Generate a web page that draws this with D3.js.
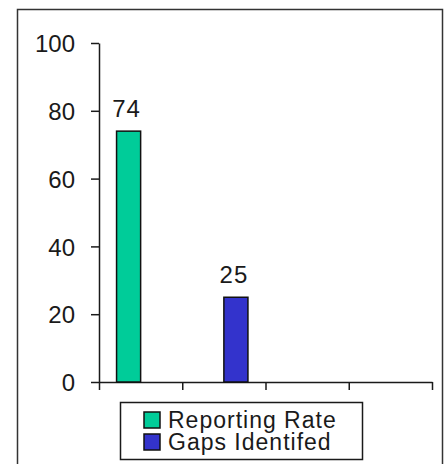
<!DOCTYPE html>
<html>
<head>
<meta charset="utf-8">
<script src="https://cdn.jsdelivr.net/npm/d3@7"></script>
<style>
  body { margin: 0; background: #fff; }
  text { font-family: "Liberation Sans", Arial, sans-serif; fill: #1a1a1a; }
</style>
</head>
<body>
<div id="chart"></div>
<script>
// data
const categories = ["c1", "c2", "c3", "c4"];
const seriesNames = ["Reporting Rate", "Gaps Identifed"];
const reportingRate = [74, null, null, null];
const gapsIdentified = [null, 25, null, null];
const yTicks = [0, 20, 40, 60, 80, 100];
const colors = ["#00CC99", "#3333CC"];

const W = 445, H = 464;
const margin = {top: 43, left: 99, right: 13, bottom: 82};
const width = W - margin.left - margin.right;
const height = H - margin.top - margin.bottom;

const svg = d3.select("#chart").append("svg")
    .attr("width", W)
    .attr("height", H);

// outer frame
svg.append("rect")
    .attr("x", 17.5).attr("y", 9.5)
    .attr("width", 425).attr("height", 470)
    .attr("fill", "none")
    .attr("stroke", "#333")
    .attr("stroke-width", 1.5);

const g = svg.append("g")
    .attr("transform", "translate(" + margin.left + "," + margin.top + ")");

// scales
const x0 = d3.scaleBand().domain(categories).range([0, width]).padding(0);
const x1 = d3.scaleBand().domain(seriesNames).range([0, x0.bandwidth()])
    .paddingInner(0).paddingOuter(0.73);
const y = d3.scaleLinear().domain([0, 100]).range([height, 0]);
const xEdges = d3.scaleLinear().domain([0, categories.length]).range([0, width]);

// axes
const yAxisG = g.append("g")
    .call(d3.axisLeft(y).tickValues(yTicks).tickSize(8).tickSizeOuter(0).tickPadding(16));
const xAxisG = g.append("g")
    .attr("transform", "translate(0," + height + ")")
    .call(d3.axisBottom(xEdges).tickValues(d3.range(categories.length + 1))
        .tickSize(8).tickSizeOuter(0).tickFormat(""));

[yAxisG, xAxisG].forEach(ax => {
    ax.selectAll("path, line").attr("stroke", "#1a1a1a").attr("stroke-width", 1.5);
});
yAxisG.selectAll("text")
    .style("font-size", "24px")
    .attr("fill", "#1a1a1a")
    .attr("dy", "0.36em");

// bars
const series = [reportingRate, gapsIdentified];
const barData = [];
categories.forEach((c, i) => {
    series.forEach((s, j) => {
        if (s[i] != null) barData.push({cat: c, name: seriesNames[j], value: s[i], color: colors[j]});
    });
});

g.selectAll(".bar")
    .data(barData)
  .enter().append("rect")
    .attr("class", "bar")
    .attr("x", d => x0(d.cat) + x1(d.name))
    .attr("y", d => y(d.value))
    .attr("width", x1.bandwidth())
    .attr("height", d => height - y(d.value))
    .attr("fill", d => d.color)
    .attr("stroke", "#111")
    .attr("stroke-width", 1.5);

g.selectAll(".label")
    .data(barData)
  .enter().append("text")
    .attr("class", "label")
    .attr("x", d => x0(d.cat) + x1(d.name) + x1.bandwidth() / 2 - 2)
    .attr("y", d => y(d.value) - 14)
    .attr("text-anchor", "middle")
    .style("font-size", "24px")
    .style("letter-spacing", "1px")
    .text(d => d.value);

// legend
const legend = svg.append("g").attr("transform", "translate(120,402)");
legend.append("rect")
    .attr("x", 0.5).attr("y", 0.5)
    .attr("width", 242).attr("height", 57)
    .attr("fill", "#fff")
    .attr("stroke", "#1a1a1a")
    .attr("stroke-width", 1.5);

const items = legend.selectAll(".item")
    .data(seriesNames)
  .enter().append("g")
    .attr("transform", (d, i) => "translate(24," + (10 + i * 22) + ")");
items.append("rect")
    .attr("width", 16).attr("height", 16)
    .attr("fill", (d, i) => colors[i])
    .attr("stroke", "#111")
    .attr("stroke-width", 1.5);
items.append("text")
    .attr("x", 24)
    .attr("y", 16)
    .style("font-size", "23px")
    .style("letter-spacing", "1px")
    .text(d => d);
</script>
</body>
</html>
